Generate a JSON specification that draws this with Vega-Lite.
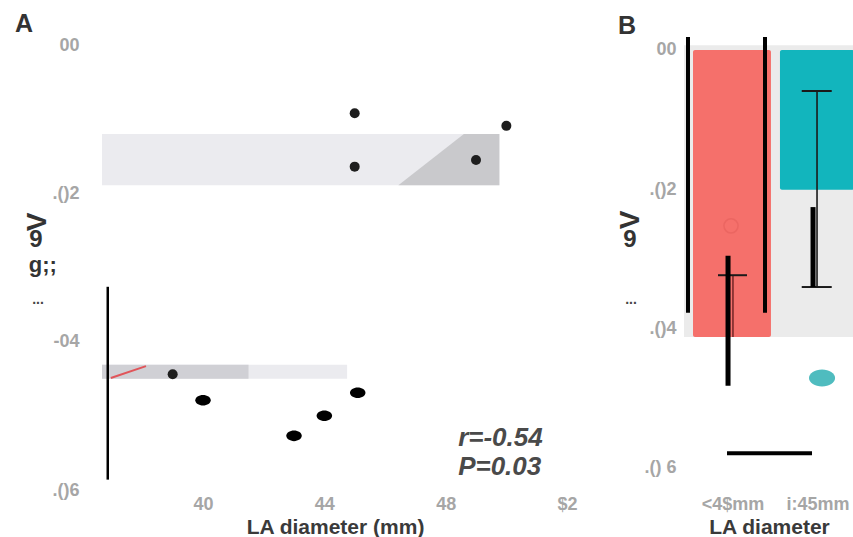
{
  "$schema": "https://vega.github.io/schema/vega-lite/v6.json",
  "background": "white",
  "padding": {"left": 14, "top": 12, "right": 0, "bottom": 4},
  "bounds": "flush",
  "spacing": 83,
  "config": {
    "view": {"stroke": null},
    "font": "Liberation Sans",
    "axis": {
      "domain": false, "ticks": false, "grid": false,
      "labelFont": "Liberation Sans", "labelFontWeight": "bold", "labelColor": "#a6a6a6", "labelFontSize": 18,
      "titleFont": "Liberation Sans", "titleFontWeight": "bold", "titleColor": "#3a3a3a", "titleFontSize": 21
    }
  },
  "datasets": {
    "bandLightA": [
      {"x": 36.67, "x2": 49.77, "y": -0.0120, "y2": -0.0189},
      {"x": 36.67, "x2": 44.75, "y": -0.0431, "y2": -0.0450}
    ],
    "bandDarkA": [
      {"x": 36.67, "x2": 41.5, "y": -0.0431, "y2": -0.0450}
    ],
    "triA": [
      {"x": 46.44, "y": -0.0189, "y2": -0.0189},
      {"x": 48.6, "y": -0.0120, "y2": -0.0189},
      {"x": 49.77, "y": -0.0120, "y2": -0.0189}
    ],
    "redLineA": [
      {"x": 36.96, "y": -0.0449},
      {"x": 38.12, "y": -0.0433}
    ],
    "vruleA": [
      {"x": 36.86, "y": -0.0326, "y2": -0.0586}
    ],
    "roundPointsA": [
      {"x": 45, "y": -0.0092},
      {"x": 50, "y": -0.0109},
      {"x": 45, "y": -0.0164},
      {"x": 49, "y": -0.0155},
      {"x": 39, "y": -0.0444}
    ],
    "ovalPointsA": [
      {"x": 40, "y": -0.0479},
      {"x": 43, "y": -0.0527},
      {"x": 44, "y": -0.0500},
      {"x": 45.1, "y": -0.0469}
    ],
    "statsA": [
      {"x": 48.41, "y": -0.0530, "label": "r=-0.54"},
      {"x": 48.41, "y": -0.0569, "label": "P=0.03"}
    ],
    "panelA": [
      {"x": 33.80, "y": 0.00445, "label": "A"}
    ],
    "vA": [
      {"x": 34.56, "y": -0.02386, "label": "V"}
    ],
    "nineA": [
      {"x": 34.49, "y": -0.02629, "label": "9"}
    ],
    "gA": [
      {"x": 34.72, "y": -0.02966, "label": "g;;"}
    ],
    "dotsA": [
      {"x": 34.56, "y": -0.03438, "label": "..."}
    ],
    "bgB": [
      {"x": 0.43, "x2": 2.43, "y": 0.0007, "y2": -0.0413}
    ],
    "barsB": [
      {"grp": "<45mm", "x": 0.536, "x2": 1.453, "y": 0, "y2": -0.0413},
      {"grp": ">=45mm", "x": 1.559, "x2": 2.43, "y": 0, "y2": -0.0201}
    ],
    "faintB": [
      {"x": 0.983, "y": -0.0253}
    ],
    "errThinB": [
      {"x": 1.995, "y": -0.0059, "y2": -0.0341}
    ],
    "capsB": [
      {"x": 1.815, "x2": 2.168, "y": -0.0059},
      {"x": 1.815, "x2": 2.168, "y": -0.0341},
      {"x": 0.83, "x2": 1.171, "y": -0.0324}
    ],
    "errRedB": [
      {"x": 1.006, "y": -0.0324, "y2": -0.0413}
    ],
    "longB": [
      {"x": 0.477, "y": 0.00187, "y2": -0.0378},
      {"x": 1.383, "y": 0.00187, "y2": -0.0378}
    ],
    "thickB": [
      {"x": 0.948, "y": -0.0296, "y2": -0.0483},
      {"x": 1.948, "y": -0.0226, "y2": -0.0341}
    ],
    "hlineB": [
      {"x": 0.936, "x2": 1.936, "y": -0.058}
    ],
    "tealPtB": [
      {"x": 2.054, "y": -0.0472}
    ],
    "panelB": [
      {"x": -0.346, "y": 0.00518, "label": "B"}
    ],
    "vB": [
      {"x": -0.194, "y": -0.02446, "label": "V"}
    ],
    "nineB": [
      {"x": -0.206, "y": -0.02734, "label": "9"}
    ],
    "dotsB": [
      {"x": -0.194, "y": -0.0360, "label": "..."}
    ]
  },
  "hconcat": [
    {
      "width": 499,
      "height": 453,
      "encoding": {
        "x": {
          "field": "x", "type": "quantitative",
          "scale": {"domain": [36.67, 53.12], "nice": false, "zero": false},
          "axis": {"values": [40, 44, 48, 52], "labelExpr": "datum.value == 52 ? '$2' : datum.label", "labelPadding": 5, "titlePadding": 3, "titleX": 233},
          "title": "LA diameter (mm)"
        },
        "y": {
          "field": "y", "type": "quantitative",
          "scale": {"domain": [-0.06, 0.00108], "nice": false, "zero": false},
          "axis": {"values": [0, -0.02, -0.04, -0.06], "labelExpr": "datum.value > -0.01 ? '00' : datum.value > -0.03 ? '.()2' : datum.value > -0.05 ? '-04' : '.()6'", "labelPadding": 23},
          "title": null
        }
      },
      "layer": [
        {"data": {"name": "bandLightA"}, "mark": {"type": "rect", "color": "#ebebef"}, "encoding": {"x2": {"field": "x2"}, "y2": {"field": "y2"}}},
        {"data": {"name": "bandDarkA"}, "mark": {"type": "rect", "color": "#d0d0d5"}, "encoding": {"x2": {"field": "x2"}, "y2": {"field": "y2"}}},
        {"data": {"name": "triA"}, "mark": {"type": "area", "color": "#c9c9cc"}, "encoding": {"y2": {"field": "y2"}}},
        {"data": {"name": "redLineA"}, "mark": {"type": "line", "color": "#e0555a", "strokeWidth": 2}, "encoding": {}},
        {"data": {"name": "vruleA"}, "mark": {"type": "rule", "color": "#000000", "strokeWidth": 2.5}, "encoding": {"y2": {"field": "y2"}}},
        {"data": {"name": "roundPointsA"}, "mark": {"type": "circle", "color": "#1e1e1e", "size": 100, "opacity": 1}},
        {"data": {"name": "ovalPointsA"}, "mark": {"type": "point", "shape": "M-1,0A1,0.68,0,1,0,1,0A1,0.68,0,1,0,-1,0Z", "filled": true, "color": "#000000", "size": 240, "opacity": 1}},
        {"data": {"name": "statsA"}, "mark": {"type": "text", "align": "left", "baseline": "middle", "fontSize": 26, "fontWeight": "bold", "fontStyle": "italic", "color": "#4a4a4a"}, "encoding": {"text": {"field": "label"}}},
        {"data": {"name": "panelA"}, "mark": {"type": "text", "align": "left", "baseline": "top", "fontSize": 25, "fontWeight": "bold", "color": "#333333"}, "encoding": {"text": {"field": "label"}}},
        {"data": {"name": "vA"}, "mark": {"type": "text", "align": "center", "baseline": "middle", "angle": 270, "fontSize": 28, "fontWeight": "bold", "color": "#333333"}, "encoding": {"text": {"field": "label"}}},
        {"data": {"name": "nineA"}, "mark": {"type": "text", "align": "center", "baseline": "middle", "fontSize": 24, "fontWeight": "bold", "color": "#333333"}, "encoding": {"text": {"field": "label"}}},
        {"data": {"name": "gA"}, "mark": {"type": "text", "align": "center", "baseline": "middle", "fontSize": 22, "fontWeight": "bold", "color": "#333333"}, "encoding": {"text": {"field": "label"}}},
        {"data": {"name": "dotsA"}, "mark": {"type": "text", "align": "center", "baseline": "middle", "fontSize": 14, "fontWeight": "bold", "color": "#444444"}, "encoding": {"text": {"field": "label"}}}
      ]
    },
    {
      "width": 170,
      "height": 453,
      "encoding": {
        "x": {
          "field": "x", "type": "quantitative",
          "scale": {"domain": [0.43, 2.43], "nice": false, "zero": false},
          "axis": {"values": [1, 2], "labelExpr": "datum.value == 1 ? '<4$mm' : 'i:45mm'", "labelPadding": 5, "titlePadding": 3},
          "title": "LA diameter"
        },
        "y": {
          "field": "y", "type": "quantitative",
          "scale": {"domain": [-0.0633, 0.00187], "nice": false, "zero": false},
          "axis": {"values": [0, -0.02, -0.04, -0.06], "labelExpr": "datum.value > -0.01 ? '00' : datum.value > -0.03 ? '.()2' : datum.value > -0.05 ? '.()4' : '.() 6'", "labelPadding": 8},
          "title": null
        }
      },
      "layer": [
        {"data": {"name": "bgB"}, "mark": {"type": "rect", "color": "#ebebeb"}, "encoding": {"x2": {"field": "x2"}, "y2": {"field": "y2"}}},
        {"data": {"name": "barsB"}, "mark": {"type": "rect", "cornerRadius": 2}, "encoding": {"x2": {"field": "x2"}, "y2": {"field": "y2"}, "color": {"field": "grp", "type": "nominal", "scale": {"domain": ["<45mm", ">=45mm"], "range": ["#f5706b", "#12b5bd"]}, "legend": null}}},
        {"data": {"name": "faintB"}, "mark": {"type": "point", "shape": "circle", "filled": false, "size": 200, "color": "#e05a57", "opacity": 0.45, "strokeWidth": 1.5}},
        {"data": {"name": "errThinB"}, "mark": {"type": "rule", "color": "#1a1a1a", "strokeWidth": 1.6}, "encoding": {"y2": {"field": "y2"}}},
        {"data": {"name": "errRedB"}, "mark": {"type": "rule", "color": "#7a2a2a", "strokeWidth": 1.6}, "encoding": {"y2": {"field": "y2"}}},
        {"data": {"name": "capsB"}, "mark": {"type": "rule", "color": "#1a1a1a", "strokeWidth": 2}, "encoding": {"x2": {"field": "x2"}}},
        {"data": {"name": "longB"}, "mark": {"type": "rule", "color": "#000000", "strokeWidth": 4}, "encoding": {"y2": {"field": "y2"}}},
        {"data": {"name": "thickB"}, "mark": {"type": "rule", "color": "#000000", "strokeWidth": 5}, "encoding": {"y2": {"field": "y2"}}},
        {"data": {"name": "hlineB"}, "mark": {"type": "rule", "color": "#000000", "strokeWidth": 4}, "encoding": {"x2": {"field": "x2"}}},
        {"data": {"name": "tealPtB"}, "mark": {"type": "point", "shape": "M-1,0A1,0.65,0,1,0,1,0A1,0.65,0,1,0,-1,0Z", "filled": true, "color": "#4fbcbf", "size": 680, "opacity": 1}},
        {"data": {"name": "panelB"}, "mark": {"type": "text", "align": "left", "baseline": "top", "fontSize": 25, "fontWeight": "bold", "color": "#333333"}, "encoding": {"text": {"field": "label"}}},
        {"data": {"name": "vB"}, "mark": {"type": "text", "align": "center", "baseline": "middle", "angle": 270, "fontSize": 28, "fontWeight": "bold", "color": "#333333"}, "encoding": {"text": {"field": "label"}}},
        {"data": {"name": "nineB"}, "mark": {"type": "text", "align": "center", "baseline": "middle", "fontSize": 24, "fontWeight": "bold", "color": "#333333"}, "encoding": {"text": {"field": "label"}}},
        {"data": {"name": "dotsB"}, "mark": {"type": "text", "align": "center", "baseline": "middle", "fontSize": 14, "fontWeight": "bold", "color": "#444444"}, "encoding": {"text": {"field": "label"}}}
      ]
    }
  ]
}
